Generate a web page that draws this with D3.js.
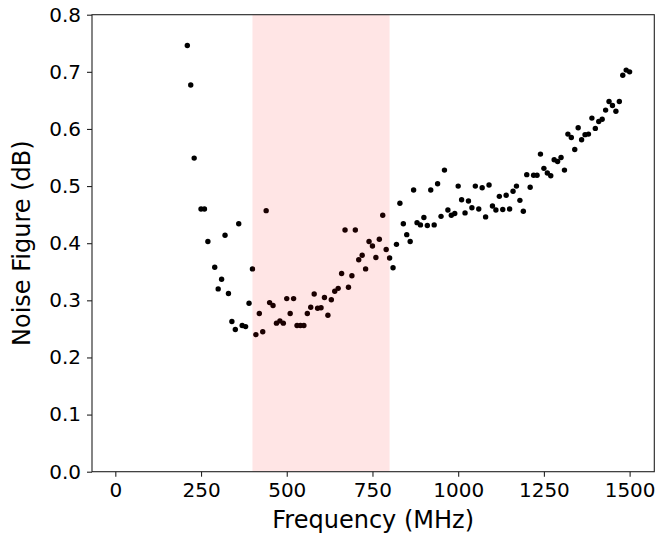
<!DOCTYPE html>
<html>
<head>
<meta charset="utf-8">
<script src="https://cdn.jsdelivr.net/npm/d3@7"></script>
<style>
  body { margin: 0; background: #fff; }
  text { font-family: "DejaVu Sans", sans-serif; }
</style>
</head>
<body>
<div id="chart"></div>
<script>
// frequences mesurees (MHz)
var freqs = [210, 220, 230, 250, 260, 270, 290, 300, 310, 320, 330, 340, 350, 360, 370, 380, 390,
  400, 410, 420, 430, 440, 450, 460, 470, 480, 490, 500, 510, 520, 530, 540, 550, 560, 570, 580,
  590, 600, 610, 620, 630, 640, 650, 660, 670, 680, 690, 700, 710, 720, 730, 740, 750, 760, 770,
  780, 790, 800, 810, 820, 830, 840, 850, 860, 870, 880, 890, 900, 910, 920, 930, 940, 950, 960,
  970, 980, 990, 1000, 1010, 1020, 1030, 1040, 1050, 1060, 1070, 1080, 1090, 1100, 1110, 1120,
  1130, 1140, 1150, 1160, 1170, 1180, 1190, 1200, 1210, 1220, 1230, 1240, 1250, 1260, 1270, 1280,
  1290, 1300, 1310, 1320, 1330, 1340, 1350, 1360, 1370, 1380, 1390, 1400, 1410, 1420, 1430, 1440,
  1450, 1460, 1470, 1480, 1490, 1500];

// noise figure (dB)
var noise = [0.746, 0.677, 0.549, 0.460, 0.460, 0.403, 0.358, 0.320, 0.337, 0.414, 0.312, 0.263,
  0.249, 0.434, 0.256, 0.254, 0.295, 0.355, 0.240, 0.277, 0.245, 0.457, 0.296, 0.291, 0.260, 0.264,
  0.260, 0.303, 0.277, 0.303, 0.256, 0.256, 0.256, 0.277, 0.288, 0.311, 0.286, 0.287, 0.305, 0.274,
  0.301, 0.316, 0.321, 0.347, 0.423, 0.323, 0.343, 0.423, 0.371, 0.379, 0.355, 0.403, 0.395, 0.375,
  0.407, 0.449, 0.389, 0.374, 0.357, 0.398, 0.470, 0.434, 0.415, 0.403, 0.493, 0.436, 0.432, 0.445,
  0.431, 0.493, 0.432, 0.504, 0.447, 0.528, 0.458, 0.449, 0.452, 0.500, 0.476, 0.453, 0.474, 0.462,
  0.500, 0.460, 0.497, 0.446, 0.502, 0.465, 0.458, 0.482, 0.459, 0.484, 0.460, 0.491, 0.500, 0.475,
  0.456, 0.520, 0.498, 0.519, 0.519, 0.556, 0.531, 0.523, 0.518, 0.546, 0.543, 0.550, 0.528, 0.591,
  0.585, 0.564, 0.602, 0.581, 0.590, 0.591, 0.619, 0.601, 0.613, 0.617, 0.633, 0.648, 0.641, 0.631,
  0.648, 0.694, 0.703, 0.700];

// bande surlignee
var band = [400, 800];

var xTicks = [0, 250, 500, 750, 1000, 1250, 1500];
var yTicks = [0.0, 0.1, 0.2, 0.3, 0.4, 0.5, 0.6, 0.7, 0.8];

var width = 660,
  height = 539,
  margin = { top: 14.7, right: 5.7, bottom: 67.3, left: 92 };

var svg = d3.select("#chart")
  .append("svg")
  .attr("width", width)
  .attr("height", height);

var x = d3.scaleLinear()
  .domain([-68, 1572])
  .range([margin.left, width - margin.right]);

var y = d3.scaleLinear()
  .domain([0, 0.8])
  .range([height - margin.bottom, margin.top]);

var data = freqs.map(function (f, i) { return { f: f, v: noise[i] }; });

// points
svg.append("g")
  .selectAll("circle")
  .data(data)
  .join("circle")
  .attr("cx", function (d) { return x(d.f); })
  .attr("cy", function (d) { return y(d.v); })
  .attr("r", 2.7)
  .style("fill", "#000");

// zone rose par dessus les points (alpha 0.1)
svg.append("rect")
  .attr("x", x(band[0]))
  .attr("y", y(0.8))
  .attr("width", x(band[1]) - x(band[0]))
  .attr("height", y(0) - y(0.8))
  .style("fill", "red")
  .style("opacity", 0.1);

// axes
var xAxis = svg.append("g")
  .attr("transform", "translate(0," + (height - margin.bottom) + ")")
  .call(d3.axisBottom(x).tickValues(xTicks).tickSize(5).tickPadding(6).tickFormat(d3.format("d")));

var yAxis = svg.append("g")
  .attr("transform", "translate(" + margin.left + ",0)")
  .call(d3.axisLeft(y).tickValues(yTicks).tickSize(5).tickPadding(6).tickFormat(d3.format(".1f")));

[xAxis, yAxis].forEach(function (a) {
  a.select(".domain").remove();
  a.selectAll("line").style("stroke", "#222").style("stroke-width", 1.1);
  a.selectAll("text").style("font-size", "20px").style("font-family", "DejaVu Sans").style("fill", "#000");
});

// cadre
svg.append("rect")
  .attr("x", margin.left)
  .attr("y", margin.top)
  .attr("width", width - margin.left - margin.right)
  .attr("height", height - margin.top - margin.bottom)
  .style("fill", "none")
  .style("stroke", "#222")
  .style("stroke-width", 1.1);

svg.append("text")
  .attr("x", (margin.left + width - margin.right) / 2)
  .attr("y", 528)
  .attr("text-anchor", "middle")
  .style("font-size", "24px")
  .text("Frequency (MHz)");

svg.append("text")
  .attr("transform", "translate(30," + (margin.top + (height - margin.top - margin.bottom) / 2) + ") rotate(-90)")
  .attr("text-anchor", "middle")
  .style("font-size", "24px")
  .text("Noise Figure (dB)");
</script>
</body>
</html>
